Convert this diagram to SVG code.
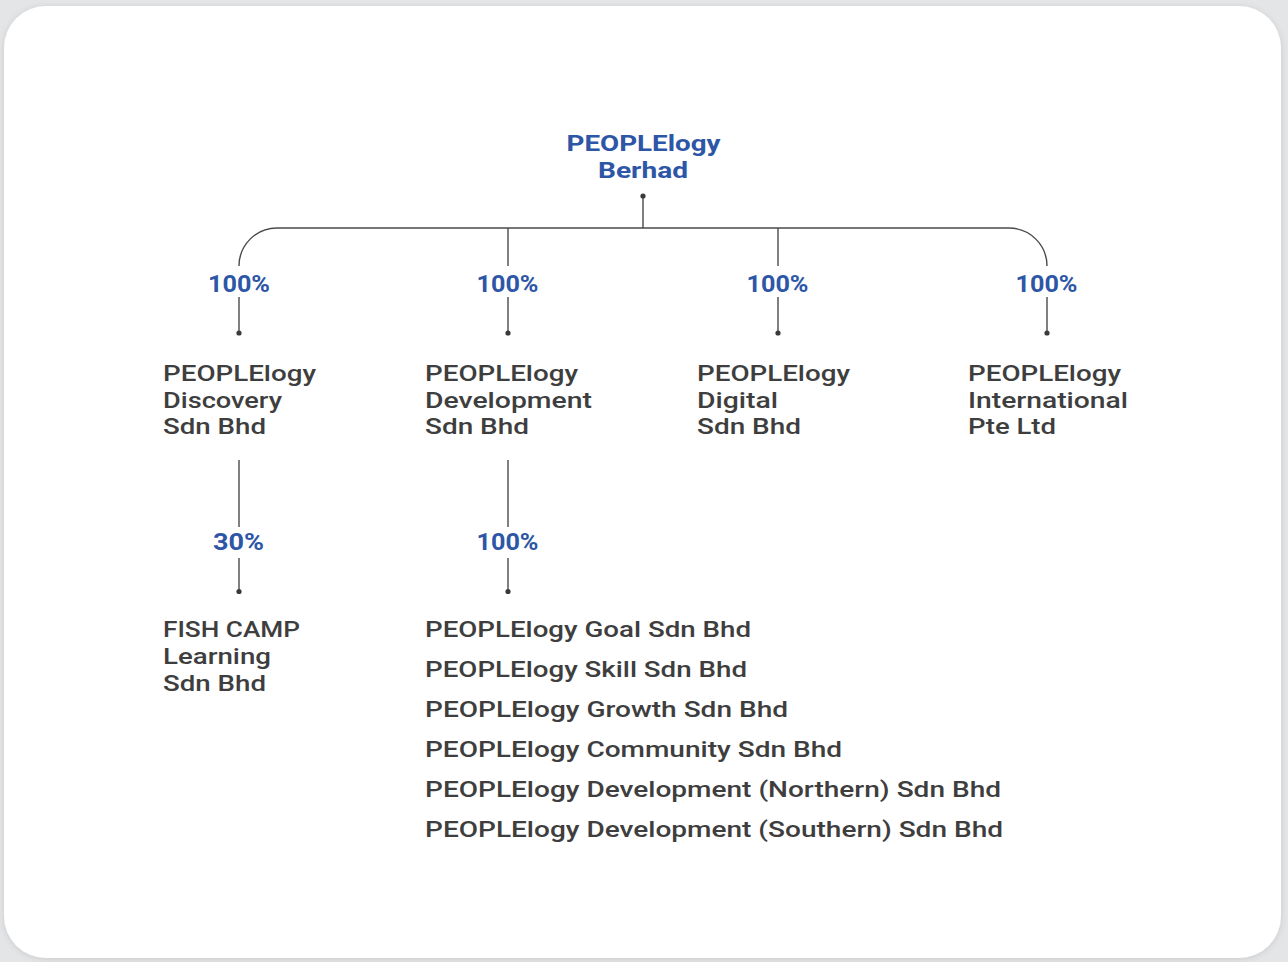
<svg xmlns="http://www.w3.org/2000/svg" width="1288" height="962" viewBox="0 0 1288 962">
  <defs>
    <filter id="shadow" x="-5%" y="-5%" width="110%" height="110%">
      <feGaussianBlur in="SourceAlpha" stdDeviation="3"/>
      <feOffset dx="0" dy="1" result="b"/>
      <feFlood flood-color="#000" flood-opacity="0.12"/>
      <feComposite in2="b" operator="in"/>
      <feMerge><feMergeNode/><feMergeNode in="SourceGraphic"/></feMerge>
    </filter>
    <style>
      .name { font-family: Roboto, "Liberation Sans", sans-serif; font-weight: 500; font-size: 22px; fill: #3e3e3e; }
      .title { font-family: Roboto, "Liberation Sans", sans-serif; font-weight: 700; font-size: 22px; fill: #2d56a6; text-anchor: middle; }
      .pct { font-family: Roboto, "Liberation Sans", sans-serif; font-weight: 700; font-size: 24px; fill: #2d56a6; text-anchor: middle; }
      .line { fill: none; stroke: #4a4a4a; stroke-width: 1.4; }
      .dot { fill: #3a3a3a; }
    </style>
  </defs>

  <rect x="0" y="0" width="1288" height="962" fill="#e4e5e7"/>
  <rect x="4" y="6" width="1277" height="952" rx="42" ry="42" fill="#ffffff" filter="url(#shadow)"/>

  <g id="connectors">
    <path class="line" d="M239,266 A38,38 0 0 1 277,228 H1009 A38,38 0 0 1 1047,266"/>
    <path class="line" d="M643,196 V228"/>
    <path class="line" d="M508,228 V266"/>
    <path class="line" d="M778,228 V266"/>
    <path class="line" d="M239,297 V333"/>
    <path class="line" d="M508,297 V333"/>
    <path class="line" d="M778,297 V333"/>
    <path class="line" d="M1047,297 V333"/>
    <path class="line" d="M239,460 V527"/>
    <path class="line" d="M239,558 V591"/>
    <path class="line" d="M508,460 V527"/>
    <path class="line" d="M508,558 V591"/>
    <circle class="dot" cx="643" cy="196" r="2.6"/>
    <circle class="dot" cx="239" cy="333" r="2.6"/>
    <circle class="dot" cx="508" cy="333" r="2.6"/>
    <circle class="dot" cx="778" cy="333" r="2.6"/>
    <circle class="dot" cx="1047" cy="333" r="2.6"/>
    <circle class="dot" cx="239" cy="591.5" r="2.6"/>
    <circle class="dot" cx="508" cy="591.5" r="2.6"/>
    <text class="pct" x="239" y="292" textLength="62" lengthAdjust="spacingAndGlyphs">100%</text>
    <text class="pct" x="507.5" y="292" textLength="62" lengthAdjust="spacingAndGlyphs">100%</text>
    <text class="pct" x="777.5" y="292" textLength="62" lengthAdjust="spacingAndGlyphs">100%</text>
    <text class="pct" x="1046.5" y="292" textLength="62" lengthAdjust="spacingAndGlyphs">100%</text>
    <text class="pct" x="238.5" y="550" textLength="51" lengthAdjust="spacingAndGlyphs">30%</text>
    <text class="pct" x="507.5" y="550" textLength="62" lengthAdjust="spacingAndGlyphs">100%</text>
  </g>

  <g id="node-berhad">
    <text class="title"><tspan x="643.5" y="151" textLength="154" lengthAdjust="spacingAndGlyphs">PEOPLElogy</tspan><tspan x="643" y="177.5" textLength="90" lengthAdjust="spacingAndGlyphs">Berhad</tspan></text>
  </g>

  <g id="node-discovery">
    <text class="name"><tspan x="163" y="381" textLength="153" lengthAdjust="spacingAndGlyphs">PEOPLElogy</tspan><tspan x="163" y="407.5" textLength="119" lengthAdjust="spacingAndGlyphs">Discovery</tspan><tspan x="163" y="434" textLength="103" lengthAdjust="spacingAndGlyphs">Sdn Bhd</tspan></text>
  </g>

  <g id="node-development">
    <text class="name"><tspan x="425" y="381" textLength="153" lengthAdjust="spacingAndGlyphs">PEOPLElogy</tspan><tspan x="425" y="407.5" textLength="167" lengthAdjust="spacingAndGlyphs">Development</tspan><tspan x="425" y="434" textLength="104" lengthAdjust="spacingAndGlyphs">Sdn Bhd</tspan></text>
  </g>

  <g id="node-digital">
    <text class="name"><tspan x="697" y="381" textLength="153" lengthAdjust="spacingAndGlyphs">PEOPLElogy</tspan><tspan x="697" y="407.5" textLength="81" lengthAdjust="spacingAndGlyphs">Digital</tspan><tspan x="697" y="434" textLength="104" lengthAdjust="spacingAndGlyphs">Sdn Bhd</tspan></text>
  </g>

  <g id="node-international">
    <text class="name"><tspan x="968" y="381" textLength="153" lengthAdjust="spacingAndGlyphs">PEOPLElogy</tspan><tspan x="968" y="407.5" textLength="160" lengthAdjust="spacingAndGlyphs">International</tspan><tspan x="968" y="434" textLength="88" lengthAdjust="spacingAndGlyphs">Pte Ltd</tspan></text>
  </g>

  <g id="node-fishcamp">
    <text class="name"><tspan x="163" y="637" textLength="137" lengthAdjust="spacingAndGlyphs">FISH CAMP</tspan><tspan x="163" y="664" textLength="108" lengthAdjust="spacingAndGlyphs">Learning</tspan><tspan x="163" y="691" textLength="103" lengthAdjust="spacingAndGlyphs">Sdn Bhd</tspan></text>
  </g>

  <g id="node-dev-subsidiaries">
    <text class="name" x="425" y="637" textLength="326" lengthAdjust="spacingAndGlyphs">PEOPLElogy Goal Sdn Bhd</text>
    <text class="name" x="425" y="677" textLength="322" lengthAdjust="spacingAndGlyphs">PEOPLElogy Skill Sdn Bhd</text>
    <text class="name" x="425" y="717" textLength="363" lengthAdjust="spacingAndGlyphs">PEOPLElogy Growth Sdn Bhd</text>
    <text class="name" x="425" y="757" textLength="417" lengthAdjust="spacingAndGlyphs">PEOPLElogy Community Sdn Bhd</text>
    <text class="name" x="425" y="797" textLength="576" lengthAdjust="spacingAndGlyphs">PEOPLElogy Development (Northern) Sdn Bhd</text>
    <text class="name" x="425" y="837" textLength="578" lengthAdjust="spacingAndGlyphs">PEOPLElogy Development (Southern) Sdn Bhd</text>
  </g>
</svg>
